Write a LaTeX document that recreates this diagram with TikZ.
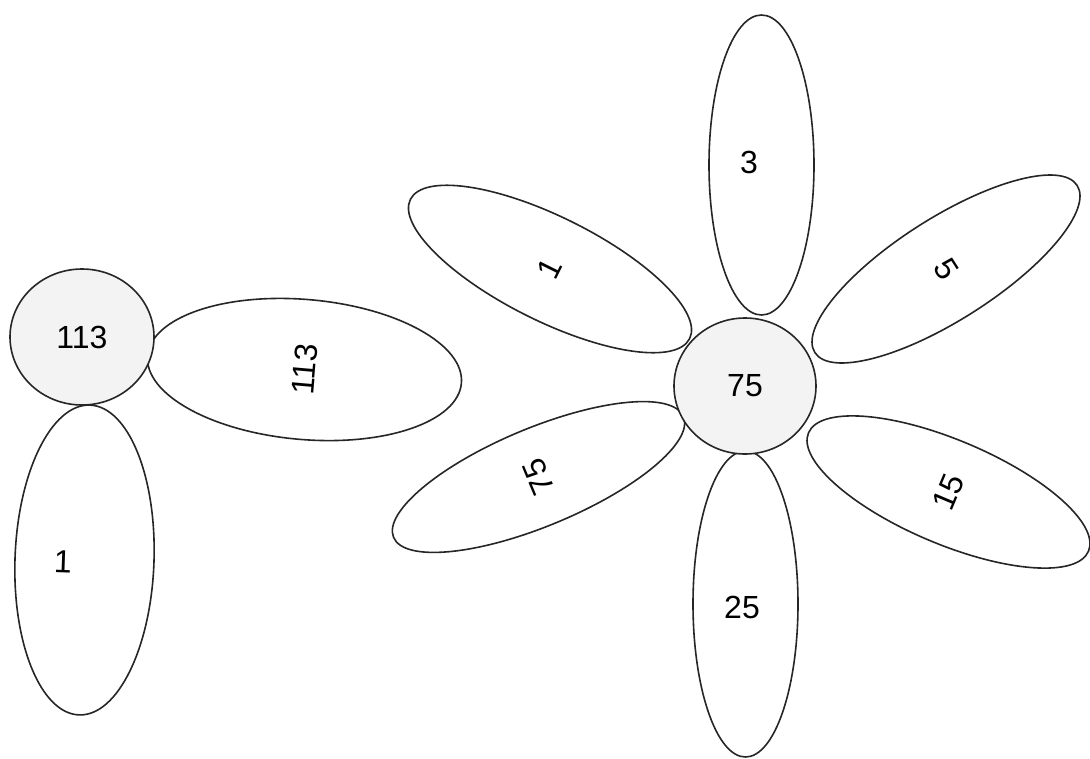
\documentclass[tikz,border=0pt]{standalone}
\usepackage{fontspec}
\setmainfont{Liberation Sans}
\usetikzlibrary{shapes.geometric}
\definecolor{ctr}{HTML}{F3F3F3}
\definecolor{edge}{HTML}{262626}
\begin{document}
\begin{tikzpicture}[x=1pt,y=-1pt,
  petal/.style={draw=edge, line width=1.6pt, ellipse, inner sep=0pt, fill=white, font=\fontsize{32}{32}\selectfont},
  disc/.style={draw=edge, line width=1.6pt, ellipse, inner sep=0pt, fill=ctr, font=\fontsize{32}{32}\selectfont},
  lbl/.style={font=\fontsize{32}{32}\selectfont, inner sep=0pt}]
\useasboundingbox[fill=white] (0,0) rectangle (1090,758);
% left flower
\node[petal, minimum width=140pt, minimum height=315pt, rotate=85] (lp1) at (304.5,369.5) {113};
\node[petal, minimum width=139pt, minimum height=310pt, rotate=-2] (lp2) at (84.5,560) {};
\node[lbl, rotate=-2] (lp2t) at (63,562) {1};
\node[disc, minimum width=144pt, minimum height=136pt] (lc) at (82,337) {113};
% right flower
\node[petal, minimum width=105pt, minimum height=300pt] (rp3) at (761.5,165) {};
\node[lbl] (rp3t) at (749,162) {3};
\node[petal, minimum width=104pt, minimum height=312pt, rotate=63.5] (rp1) at (550,269) {1};
\node[petal, minimum width=102pt, minimum height=311pt, rotate=-57.5] (rp5) at (946,269) {5};
\node[petal, minimum width=98pt, minimum height=314pt, rotate=112.6] (rp75) at (538.5,477) {75};
\node[petal, minimum width=104pt, minimum height=304pt, rotate=67.1] (rp15) at (948.5,492) {15};
\node[petal, minimum width=105pt, minimum height=306pt] (rp25) at (745.5,604) {};
\node[lbl] (rp25t) at (742,607) {25};
\node[disc, minimum width=142pt, minimum height=136pt] (rc) at (745,386) {75};
\end{tikzpicture}
\end{document}
